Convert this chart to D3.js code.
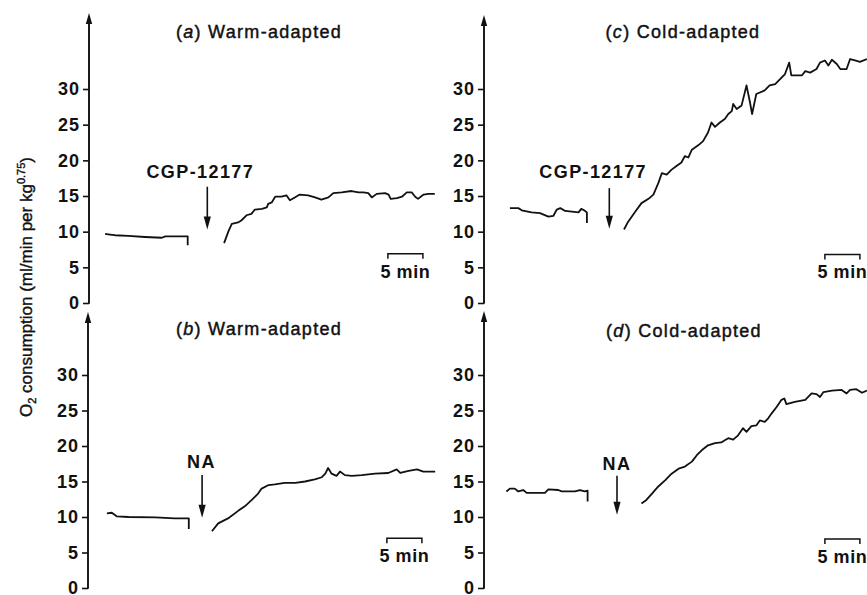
<!DOCTYPE html>
<html>
<head>
<meta charset="utf-8">
<script src="https://cdn.jsdelivr.net/npm/d3@7"></script>
<style>
  html, body { margin: 0; padding: 0; background: #fff; }
  svg { display: block; }
  text { font-family: "Liberation Sans", Arial, Helvetica, sans-serif; fill: #111; }
</style>
</head>
<body>
<svg id="chart" width="867" height="595"></svg>
<script>
// ---------------- DATA (time in min, O2 consumption in ml/min per kg^0.75) ----------------
const yTicks = [0, 5, 10, 15, 20, 25, 30];

// (a) Warm-adapted, CGP-12177
const aPreT  = [2.3, 3.0, 3.7, 5.6, 8.0, 10.4, 10.9, 14.1, 14.1];
const aPreV  = [9.7, 9.6, 9.5, 9.4, 9.25, 9.15, 9.35, 9.35, 8.1];
const aPostT = [19.3, 19.9, 20.4, 21.3, 21.8, 22.5, 23.2, 23.7, 24.7, 25.4, 25.6, 26.1, 26.6, 27.5, 28.2, 28.7, 29.4, 30.1, 31.3, 32.3, 33.2, 34.2, 34.9, 36.1, 37.5, 38.5, 39.2, 39.9, 40.4, 41.1, 42.3, 42.8, 43.1, 44.0, 44.7, 45.4, 46.1, 46.6, 47.0, 47.8, 48.5, 49.4];
const aPostV = [8.4, 10.0, 11.1, 11.3, 11.6, 12.3, 12.5, 13.1, 13.2, 13.4, 13.9, 14.1, 14.9, 14.9, 15.1, 14.4, 14.8, 15.2, 15.1, 14.8, 14.5, 14.8, 15.4, 15.5, 15.7, 15.5, 15.5, 15.4, 14.8, 15.3, 15.4, 15.2, 14.6, 14.7, 14.9, 15.5, 15.5, 14.9, 14.6, 15.2, 15.3, 15.3];

// (b) Warm-adapted, NA
const bPreT  = [2.7, 3.4, 4.1, 5.8, 9.6, 12.4, 14.4, 14.4];
const bPreV  = [10.5, 10.6, 10.1, 10.0, 9.95, 9.8, 9.8, 8.3];
const bPostT = [17.7, 18.6, 20.0, 21.5, 22.4, 23.4, 24.3, 24.8, 25.8, 26.7, 28.1, 29.6, 31.0, 32.4, 33.4, 33.9, 34.3, 34.8, 35.5, 36.0, 36.7, 37.7, 39.1, 41.0, 42.9, 44.1, 44.6, 45.8, 47.0, 47.9, 49.6];
const bPostV = [8.0, 9.1, 9.8, 10.9, 11.5, 12.4, 13.3, 14.0, 14.5, 14.6, 14.8, 14.8, 15.0, 15.3, 15.6, 16.1, 16.9, 16.1, 15.8, 16.4, 15.9, 15.8, 15.9, 16.1, 16.2, 16.7, 16.2, 16.5, 16.7, 16.4, 16.4];

// (c) Cold-adapted, CGP-12177
const cPreT  = [3.7, 4.9, 5.4, 6.8, 8.0, 9.2, 9.9, 10.4, 10.9, 11.6, 13.5, 13.9, 14.3, 14.7, 14.7];
const cPreV  = [13.3, 13.3, 13.0, 12.7, 12.6, 12.1, 12.2, 13.1, 13.3, 12.9, 12.7, 13.2, 13.0, 12.7, 11.2];
const cPostT = [20.0, 20.6, 21.6, 22.5, 23.5, 24.2, 24.9, 25.4, 26.1, 26.8, 27.5, 28.2, 28.7, 29.2, 29.7, 30.6, 31.3, 32.0, 32.5, 33.0, 33.7, 34.4, 34.9, 35.4, 35.6, 36.1, 36.8, 37.5, 38.0, 38.3, 38.9, 40.1, 40.8, 41.6, 42.3, 43.0, 43.6, 43.9, 45.4, 45.9, 46.6, 47.5, 48.0, 48.7, 49.2, 49.7, 50.4, 50.9, 51.8, 52.3, 53.0, 53.7, 54.7];
const cPostV = [10.3, 11.4, 12.8, 14.0, 14.6, 15.2, 16.8, 18.2, 18.0, 18.7, 19.2, 19.7, 20.6, 20.4, 21.5, 22.1, 22.7, 23.9, 25.3, 24.7, 25.3, 25.8, 26.5, 26.9, 27.9, 27.2, 27.7, 30.5, 28.1, 26.5, 29.3, 29.8, 30.5, 30.7, 31.4, 32.1, 33.7, 31.9, 31.9, 32.5, 32.3, 32.8, 33.7, 34.0, 33.3, 34.1, 33.5, 32.8, 32.8, 34.2, 34.0, 33.8, 34.2];

// (d) Cold-adapted, NA
const dPreT  = [3.2, 3.7, 4.4, 4.9, 5.6, 6.1, 8.7, 9.2, 10.6, 11.1, 13.0, 13.7, 14.4, 14.8, 14.8];
const dPreV  = [13.6, 14.0, 14.0, 13.6, 13.8, 13.4, 13.4, 13.9, 13.8, 13.6, 13.6, 13.8, 13.6, 13.7, 12.2];
const dPostT = [22.5, 23.2, 24.0, 24.9, 25.9, 26.8, 27.8, 28.7, 29.7, 30.4, 31.1, 32.0, 33.0, 33.9, 34.4, 34.9, 35.6, 36.3, 37.0, 37.5, 38.2, 38.9, 39.4, 40.1, 40.6, 41.1, 41.8, 42.5, 42.9, 43.2, 44.4, 45.9, 46.8, 47.5, 48.0, 48.5, 49.7, 51.1, 51.8, 52.3, 53.2, 54.0, 54.7];
const dPostV = [11.9, 12.4, 13.3, 14.3, 15.2, 16.1, 16.8, 17.1, 17.8, 18.7, 19.4, 20.1, 20.4, 20.5, 20.8, 21.1, 20.9, 21.5, 22.5, 22.0, 22.8, 22.9, 23.6, 23.4, 23.9, 24.6, 25.5, 26.5, 26.7, 25.9, 26.2, 26.5, 27.4, 27.3, 26.9, 27.6, 27.8, 27.9, 27.4, 27.9, 28.0, 27.5, 27.8];

const panelLetters = ["a", "b", "c", "d"];
const panelTitles  = ["Warm-adapted", "Warm-adapted", "Cold-adapted", "Cold-adapted"];
const drugLabels   = ["CGP-12177", "NA", "CGP-12177", "NA"];
const scaleBarLabel = "5 min";
const scaleBarMinutes = 5;

// ---------------- LAYOUT ----------------
const panels = [
  { pre: [aPreT, aPreV], post: [aPostT, aPostV], axisX: 89,  y0: 303, y30: 89,  top: 13,
    titleX: 259, titleY: 38,
    inj: { t: 16.9, labelT: 15.9, vTop: 16.3, vBot: 10.3, vLabel: 17.5 },
    bar: { t: 42.7, v: 6.9 } },
  { pre: [bPreT, bPreV], post: [bPostT, bPostV], axisX: 88,  y0: 588, y30: 375, top: 312,
    titleX: 259, titleY: 335,
    inj: { t: 16.3, labelT: 16.2, vTop: 15.9, vBot: 9.9, vLabel: 16.9 },
    bar: { t: 42.7, v: 7.0 } },
  { pre: [cPreT, cPreV], post: [cPostT, cPostV], axisX: 484, y0: 303, y30: 89,  top: 15,
    titleX: 683, titleY: 38,
    inj: { t: 17.9, labelT: 15.6, vTop: 16.1, vBot: 10.4, vLabel: 17.5 },
    bar: { t: 48.7, v: 6.8 } },
  { pre: [dPreT, dPreV], post: [dPostT, dPostV], axisX: 484, y0: 588, y30: 375, top: 311,
    titleX: 684, titleY: 337,
    inj: { t: 19.0, labelT: 19.0, vTop: 15.8, vBot: 10.3, vLabel: 16.6 },
    bar: { t: 48.7, v: 6.9 } }
];

const pxPerMin = 7;
const svg = d3.select("#chart");
svg.append("rect").attr("width", 867).attr("height", 595).attr("fill", "#fff");

panels.forEach((p, i) => {
  const x = d3.scaleLinear().domain([0, 60]).range([p.axisX, p.axisX + 60 * pxPerMin]);
  const y = d3.scaleLinear().domain([0, 30]).range([p.y0, p.y30]);
  const g = svg.append("g");

  // y axis ticks
  const axis = d3.axisLeft(y).tickValues(yTicks).tickSize(6).tickSizeOuter(0).tickPadding(3);
  const ag = g.append("g").attr("transform", `translate(${p.axisX},0)`).call(axis);
  ag.select(".domain").remove();
  ag.selectAll(".tick line").attr("stroke", "#111").attr("stroke-width", 1.6);
  ag.selectAll(".tick text")
    .attr("font-size", 18).attr("font-weight", "bold")
    .attr("font-family", "'Liberation Sans', Arial, sans-serif")
    .attr("letter-spacing", "1px").attr("fill", "#111");

  // axis line with arrow head
  g.append("line").attr("x1", p.axisX).attr("x2", p.axisX)
    .attr("y1", y(0) + 0.8).attr("y2", p.top + 6)
    .attr("stroke", "#111").attr("stroke-width", 1.9);
  g.append("path")
    .attr("d", `M${p.axisX},${p.top} L${p.axisX - 3.2},${p.top + 11} L${p.axisX + 3.2},${p.top + 11} Z`)
    .attr("fill", "#111");

  // title
  const tt = g.append("text").attr("x", p.titleX).attr("y", p.titleY)
    .attr("text-anchor", "middle").attr("font-size", 18).attr("letter-spacing", "1.3px")
    .attr("stroke", "#111").attr("stroke-width", 0.45);
  tt.append("tspan").text("(");
  tt.append("tspan").attr("font-style", "italic").text(panelLetters[i]);
  tt.append("tspan").text(") " + panelTitles[i]);

  // traces
  const line = d3.line().x(d => x(d[0])).y(d => y(d[1])).curve(d3.curveLinear);
  [p.pre, p.post].forEach(([ts, vs]) => {
    const pts = ts.map((t, k) => [t, vs[k]]);
    g.append("path").attr("d", line(pts))
      .attr("fill", "none").attr("stroke", "#111").attr("stroke-width", 1.8)
      .attr("stroke-linejoin", "round");
  });

  // injection arrow + label
  const ax = x(p.inj.t), yT = y(p.inj.vTop), yB = y(p.inj.vBot);
  g.append("line").attr("x1", ax).attr("x2", ax).attr("y1", yT).attr("y2", yB - 10)
    .attr("stroke", "#111").attr("stroke-width", 1.6);
  g.append("path")
    .attr("d", `M${ax - 3.6},${yB - 13} L${ax + 3.6},${yB - 13} L${ax},${yB} Z`)
    .attr("fill", "#111");
  g.append("text").attr("x", x(p.inj.labelT)).attr("y", y(p.inj.vLabel))
    .attr("text-anchor", "middle").attr("font-size", 18).attr("font-weight", "bold")
    .attr("letter-spacing", "1.4px").text(drugLabels[i]);

  // 5-min scale bar
  const bx0 = x(p.bar.t), bx1 = x(p.bar.t + scaleBarMinutes), by = y(p.bar.v);
  g.append("path").attr("d", `M${bx0},${by + 5} V${by} H${bx1} V${by + 5}`)
    .attr("fill", "none").attr("stroke", "#111").attr("stroke-width", 1.5);
  g.append("text").attr("x", (bx0 + bx1) / 2).attr("y", by + 24)
    .attr("text-anchor", "middle").attr("font-size", 18).attr("font-weight", "bold")
    .attr("letter-spacing", "0.6px").text(scaleBarLabel);
});

// shared y-axis label
const yl = svg.append("text")
  .attr("transform", "translate(32,287) rotate(-90)")
  .attr("text-anchor", "middle").attr("font-size", 17)
  .attr("stroke", "#111").attr("stroke-width", 0.4);
yl.append("tspan").text("O");
yl.append("tspan").attr("font-size", 11).attr("dy", 4).text("2");
yl.append("tspan").attr("dy", -4).text(" consumption  (ml/min per kg");
yl.append("tspan").attr("font-size", 11).attr("dy", -7).text("0.75");
yl.append("tspan").attr("dy", 7).text(")");
</script>
</body>
</html>
